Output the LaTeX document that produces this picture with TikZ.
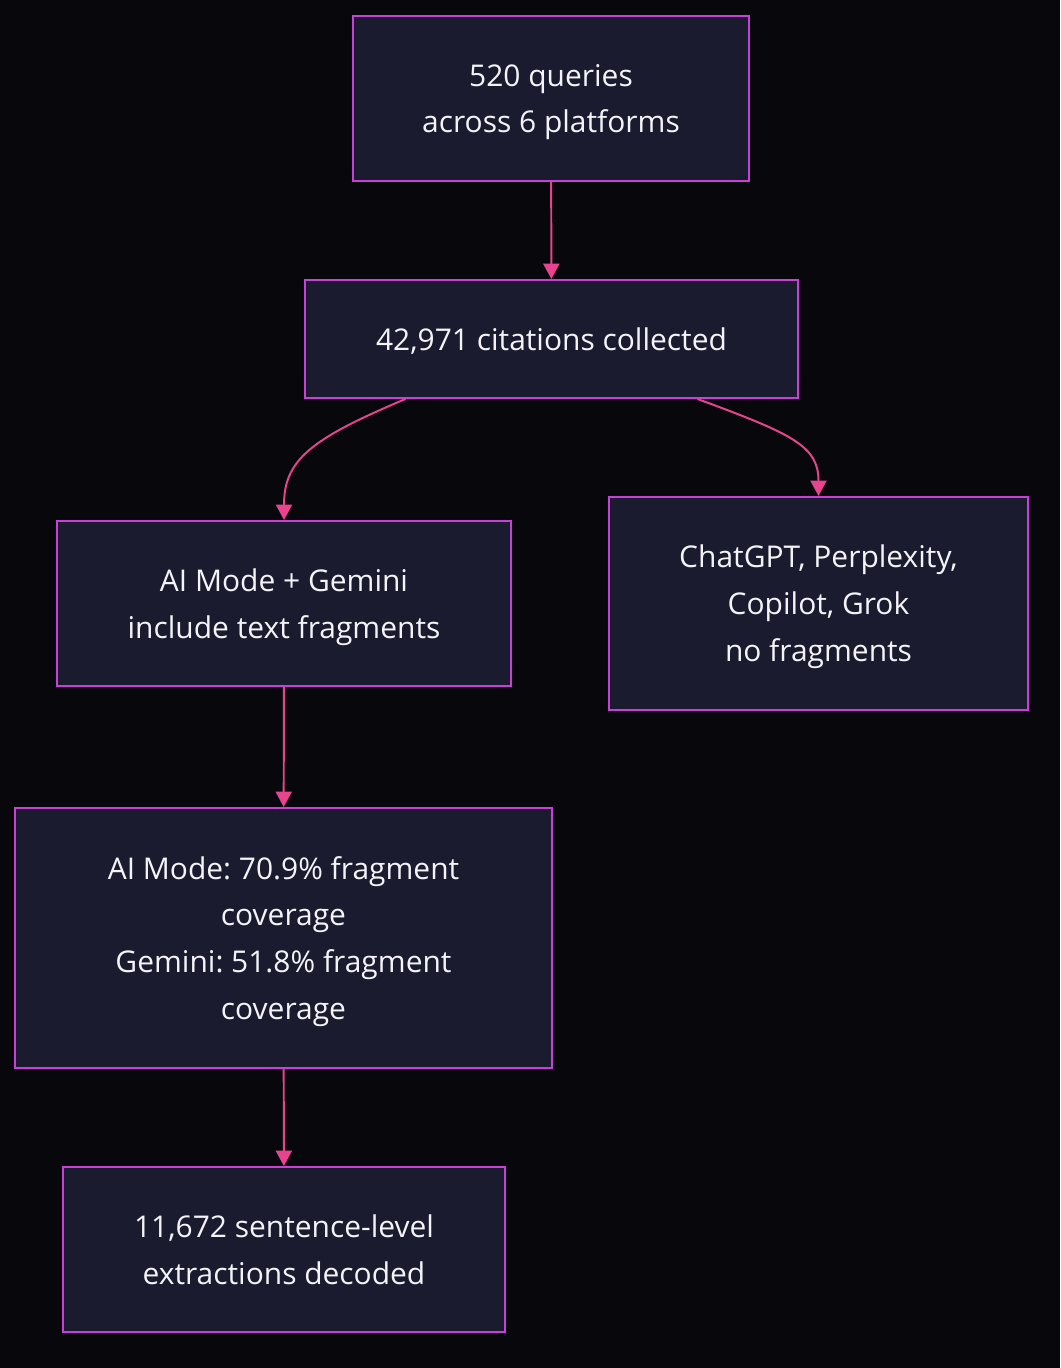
\documentclass[tikz,border=0pt]{standalone}
\usepackage{fontspec}
\setmainfont{Open Sans}
\frenchspacing
\usetikzlibrary{arrows.meta, positioning}

\definecolor{bgcol}{HTML}{08080C}
\definecolor{boxfill}{HTML}{1A1B2E}
\definecolor{boxline}{HTML}{C940D8}
\definecolor{arrowcol}{HTML}{E8438F}
\definecolor{txtcol}{HTML}{F4F4F8}

\tikzset{
    stagebox/.style = {draw=boxline, fill=boxfill, line width=1.4pt, align=center,
                       text=txtcol, font=\fontsize{21.3}{33.4}\selectfont,
                       text depth=-0.5pt},
    flowarrow/.style = {draw=arrowcol, line width=1.4pt,
                        -{Triangle[length=11pt, width=11.5pt]}}
}

\begin{document}
\begin{tikzpicture}[x=0.025cm, y=-0.025cm]
                \fill [bgcol] (0,0) rectangle (1060,1368);
                \useasboundingbox (0,0) rectangle (1060,1368);

                \node (queries) [stagebox, minimum width=9.9cm, minimum height=4.125cm] at (551,98.5)
                    {520 queries\\across 6 platforms};
                \node (cites) [stagebox, minimum width=12.325cm, minimum height=2.95cm] at (551.5,339)
                    {42,971 citations collected};
                \node (frag) [stagebox, minimum width=11.35cm, minimum height=4.125cm] at (284,603.5)
                    {AI Mode + Gemini\\include text fragments};
                \node (nofrag) [stagebox, minimum width=10.475cm, minimum height=5.325cm] at (818.5,603.5)
                    {ChatGPT, Perplexity,\\Copilot, Grok\\no fragments};
                \node (cover) [stagebox, minimum width=13.425cm, minimum height=6.5cm] at (283.5,938)
                    {AI Mode: 70.9\% fragment\\coverage\\Gemini: 51.8\% fragment\\coverage};
                \node (decoded) [stagebox, minimum width=11.05cm, minimum height=4.125cm] at (284,1249.5)
                    {11,672 sentence-level\\extractions decoded};

                \path [flowarrow] (queries) -- (cites);
                \path [flowarrow] ([xshift=-3.65cm]cites.south)
                    .. controls +(-95,40) and +(0,-60) .. (frag.north);
                \path [flowarrow] ([xshift=3.65cm]cites.south)
                    .. controls +(95,35) and +(0,-50) .. (nofrag.north);
                \path [flowarrow] (frag) -- (cover);
                \path [flowarrow] (cover) -- (decoded);
            \end{tikzpicture}
\end{document}
